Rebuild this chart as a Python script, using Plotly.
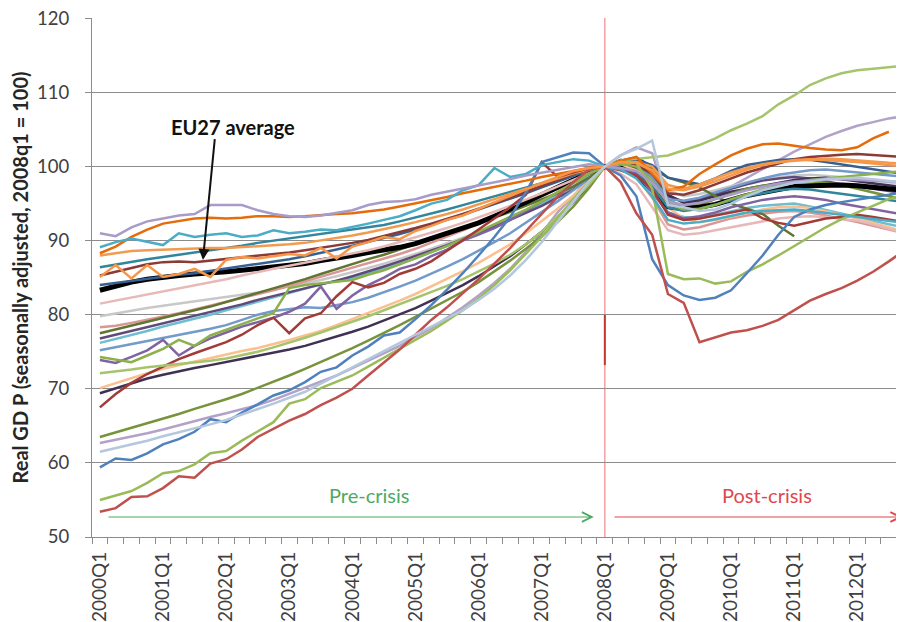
import plotly.graph_objects as go

quarters = [f"{y}Q{q}" for y in range(2000, 2013) for q in range(1, 5)]
tick_labels = ["2000Q1", "2001Q1", "2002Q1", "2003Q1", "2004Q1", "2005Q1", "2006Q1",
               "2007Q1", "2008Q1", "2009Q1", "2010Q1", "2011Q1", "2012Q1"]

eu27 = [83.3, 83.9, 84.4, 84.8, 85.1, 85.3, 85.5, 85.6, 85.8, 86.0,
        86.2, 86.5, 86.7, 86.9, 87.3, 87.6, 88.0, 88.4, 88.7, 89.1,
        89.6, 90.3, 91.0, 91.7, 92.4, 93.3, 94.2, 95.2, 96.2, 97.2,
        98.2, 99.2, 100.0, 99.8, 98.8, 96.9, 94.6, 94.3, 94.5, 94.9,
        95.5, 96.1, 96.5, 96.9, 97.3, 97.4, 97.5, 97.5, 97.4, 97.2,
        97.0, 96.8]
latvia = [53.4, 53.9, 55.4, 55.5, 56.6, 58.2, 58.0, 59.9, 60.5, 61.8,
          63.5, 64.6, 65.7, 66.6, 67.8, 68.8, 70.0, 71.8, 73.6, 75.3,
          77.3, 79.3, 81.0, 82.9, 84.8, 86.9, 89.0, 91.3, 93.6, 95.9,
          97.9, 99.6, 100.0, 97.9, 93.7, 90.8, 82.8, 81.6, 76.3, 77.0,
          77.6, 77.9, 78.5, 79.3, 80.6, 81.9, 82.8, 83.6, 84.6, 85.8,
          87.2, 88.7]
lithuania = [55.0, 55.6, 56.2, 57.3, 58.6, 58.9, 59.8, 61.3, 61.6, 63.0,
             64.2, 65.5, 68.0, 68.6, 70.1, 71.0, 71.8, 73.0, 74.2, 75.4,
             76.6, 77.8, 79.2, 80.6, 82.2, 84.0, 86.0, 88.2, 90.5, 93.0,
             95.6, 98.0, 100.0, 100.8, 100.5, 97.0, 85.5, 84.8, 84.9, 84.2,
             84.5, 85.8, 86.8, 88.0, 89.3, 90.6, 91.8, 92.9, 93.8, 94.8,
             95.6, 96.2]
estonia = [59.4, 60.6, 60.4, 61.3, 62.5, 63.2, 64.2, 65.9, 65.5, 66.8,
           67.9, 69.1, 69.8, 70.9, 72.3, 72.9, 74.5, 75.7, 77.2, 77.6,
           79.4, 81.3, 83.4, 85.6, 88.0, 90.5, 93.2, 96.5, 100.6, 101.2,
           101.9, 101.8, 100.0, 98.8, 96.0, 87.5, 84.0, 82.6, 82.0, 82.3,
           83.3, 85.6, 88.0, 90.8, 93.2, 94.2, 94.8, 95.2, 95.5, 95.9,
           96.2, 96.6]
grey_blue = [61.5, 62.0, 62.4, 63.0, 63.6, 64.1, 64.7, 65.2, 65.8, 66.5,
             67.2, 68.0, 68.8, 69.6, 70.7, 71.8, 73.0, 74.1, 75.2, 76.2,
             77.3, 78.4, 79.5, 80.6, 82.0, 83.5, 85.3, 87.4, 89.8, 92.5,
             95.3, 98.0, 100.0, 101.5, 102.4, 103.5, 94.8, 94.5, 94.0, 94.2,
             95.0, 96.0, 96.8, 97.3, 97.8, 98.0, 98.3, 98.4, 98.5, 98.3,
             98.0, 97.8]
slovakia = [62.7, 63.1, 63.6, 64.0, 64.5, 65.1, 65.6, 66.2, 66.7, 67.2,
            67.8, 68.5, 69.3, 70.1, 70.9, 71.8, 72.8, 73.8, 74.8, 75.8,
            77.0, 78.2, 79.6, 81.0, 82.6, 84.3, 86.2, 88.5, 91.0, 93.8,
            96.0, 98.5, 100.0, 101.5, 102.6, 101.8, 95.0, 94.6, 95.3, 96.2,
            97.3, 98.5, 99.7, 100.9, 102.0, 103.0, 104.0, 104.8, 105.5, 106.0,
            106.5, 106.8]
dark_green = [63.5, 64.1, 64.7, 65.4, 66.0, 66.6, 67.3, 67.9, 68.6, 69.3,
              70.1, 70.9, 71.8, 72.7, 73.6, 74.5, 75.5, 76.5, 77.5, 78.6,
              79.7, 80.8, 81.9, 83.1, 84.4, 85.8, 87.3, 88.9, 90.6, 92.5,
              94.6, 97.1, 100.0, 100.5, 100.8, 99.0, 95.5, 94.6, 94.8, 95.6,
              96.3, 97.0, 97.4, 97.6, 97.9, 98.0, 97.8, 97.5, 97.0, 96.5,
              96.0, 95.5]
dark_red = [67.5, 69.3, 70.8, 72.0, 73.0, 74.0, 74.8, 75.6, 76.3, 77.3,
            78.6, 79.6, 77.5, 79.5, 80.2, 82.5, 84.4, 83.7, 84.3, 85.5,
            86.2, 87.2, 88.6, 90.1, 91.5, 93.0, 94.5, 96.2, 100.6, 98.6,
            99.2, 99.8, 100.0, 99.5, 98.8, 97.0, 93.5, 92.8, 93.0, 93.4,
            93.8, 94.2, 93.0, 92.4, 92.0, 92.5, 93.0, 93.2, 93.5, 93.2,
            92.8, 92.5]
navy = [69.4, 70.1, 70.8, 71.4, 71.9, 72.4, 72.8, 73.2, 73.6, 74.0,
        74.4, 74.9, 75.3, 75.8, 76.4, 77.0, 77.7, 78.4, 79.2, 80.0,
        80.9, 81.9, 82.9, 84.0, 85.2, 86.5, 87.9, 89.5, 91.2, 93.1,
        95.2, 97.5, 100.0, 100.8, 101.2, 100.0, 96.2, 95.1, 95.4, 96.0,
        96.6, 97.0, 97.4, 97.8, 98.2, 98.4, 98.5, 98.3, 98.0, 97.7,
        97.4, 97.2]
salmon = [70.1, 70.8, 71.4, 72.1, 72.7, 73.2, 73.7, 74.2, 74.7, 75.1,
          75.5, 76.0, 76.6, 77.2, 77.8, 78.6, 79.4, 80.2, 81.0, 81.9,
          82.8, 83.8, 84.8, 85.9, 87.0, 88.2, 89.5, 91.0, 92.6, 94.3,
          96.1, 98.0, 100.0, 100.2, 99.5, 97.8, 94.5, 93.0, 92.5, 92.8,
          93.3, 93.8, 94.2, 94.5, 94.6, 94.4, 94.0, 93.5, 93.0, 92.4,
          91.8, 91.2]
poland = [72.1, 72.3, 72.6, 72.9, 73.1, 73.3, 73.5, 73.8, 74.1, 74.5,
          75.0, 75.6, 76.2, 76.9, 77.6, 78.3, 79.1, 79.8, 80.6, 81.4,
          82.2, 83.0, 83.9, 84.8, 85.8, 86.9, 88.1, 89.5, 91.2, 93.2,
          95.3, 97.6, 100.0, 100.8, 101.0, 101.2, 101.5, 102.2, 102.9, 103.8,
          104.9, 105.8, 106.8, 108.4, 109.6, 111.0, 111.9, 112.6, 113.0, 113.2,
          113.4, 113.6]
green_jump = [74.3, 73.9, 73.6, 74.5, 75.4, 76.6, 75.8, 77.2, 78.0, 78.8,
              79.5, 80.2, 83.6, 84.0, 84.2, 84.4, 84.7, 85.4, 86.0, 86.8,
              87.6, 88.5, 89.3, 90.2, 91.2, 92.1, 93.1, 94.2, 95.3, 96.5,
              97.8, 99.0, 100.0, 100.4, 100.0, 98.0, 95.0, 94.2, 94.3, 94.8,
              95.6, 96.3, 96.9, 97.4, 97.8, 98.2, 98.4, 98.6, 98.9, 99.1,
              99.3, 99.4]
purple_zig = [73.9, 73.5, 74.3, 75.2, 76.6, 74.5, 75.8, 76.8, 77.6, 78.4,
              79.0, 79.6, 80.4, 81.5, 83.8, 80.8, 82.6, 84.0, 85.0, 86.2,
              86.8, 87.9, 88.8, 90.0, 90.8, 91.7, 92.8, 94.0, 95.2, 96.5,
              97.8, 99.0, 100.0, 99.8, 99.0, 96.5, 93.8, 93.0, 93.3, 93.8,
              94.5, 95.0, 95.5, 95.8, 96.0, 95.8, 95.5, 95.0, 94.6, 94.2,
              93.8, 93.5]
blue = [75.2, 75.6, 76.0, 76.4, 76.9, 77.3, 77.7, 78.1, 78.6, 79.3,
        80.0, 80.5, 80.8, 81.0, 80.9, 81.3, 81.7, 82.3, 83.0, 83.8,
        84.6, 85.5, 86.5, 87.5, 88.6, 89.8, 91.0, 92.4, 93.8, 95.3,
        96.8, 98.4, 100.0, 100.3, 100.2, 98.5, 95.6, 95.4, 95.8, 96.5,
        97.2, 97.8, 98.4, 98.9, 99.2, 99.5, 99.6, 99.4, 99.3, 99.0,
        98.8, 98.6]
light_aqua = [76.2, 76.7, 77.2, 77.8, 78.4, 78.9, 79.5, 80.0, 80.6, 81.2,
              81.8, 82.3, 82.9, 83.5, 84.1, 84.6, 85.0, 85.6, 86.2, 86.9,
              87.6, 88.4, 89.2, 90.1, 91.0, 91.9, 92.9, 93.9, 95.0, 96.1,
              97.3, 98.6, 100.0, 100.1, 99.2, 97.0, 93.8, 93.2, 93.0, 93.5,
              94.0, 94.4, 94.7, 94.9, 95.0, 94.6, 94.1, 93.6, 93.1, 92.6,
              92.2, 91.8]
purple = [76.8, 77.3, 77.9, 78.4, 78.9, 79.4, 79.8, 80.3, 80.9, 81.4,
          82.0, 82.5, 83.0, 83.6, 84.1, 84.6, 85.2, 85.8, 86.5, 87.2,
          87.9, 88.6, 89.4, 90.2, 91.0, 91.9, 92.8, 93.7, 94.7, 95.8,
          96.9, 98.4, 100.0, 100.4, 99.8, 98.6, 96.0, 95.3, 95.6, 96.2,
          97.0, 97.6, 98.1, 98.4, 98.6, 98.4, 98.0, 97.6, 97.3, 97.0,
          96.7, 96.4]
pink = [78.3, 78.5, 78.9, 79.3, 79.7, 80.2, 80.7, 81.2, 81.7, 82.2,
        82.8, 83.3, 83.9, 84.5, 85.1, 85.7, 86.3, 86.9, 87.5, 88.2,
        88.9, 89.7, 90.5, 91.4, 92.3, 93.2, 94.1, 95.0, 96.0, 97.0,
        98.0, 99.0, 100.0, 99.6, 98.6, 95.8, 92.2, 91.5, 91.8, 92.4,
        93.0, 93.4, 93.7, 93.9, 94.0, 93.8, 93.4, 93.0, 92.5, 92.0,
        91.5, 91.0]
light_grey = [79.8, 80.2, 80.6, 80.9, 81.2, 81.5, 81.8, 82.1, 82.4, 82.7,
              83.0, 83.4, 83.8, 84.2, 84.7, 85.2, 85.7, 86.3, 86.9, 87.5,
              88.2, 88.9, 89.6, 90.4, 91.2, 92.1, 93.0, 94.0, 95.0, 96.1,
              97.3, 98.6, 100.0, 100.6, 100.2, 99.0, 96.8, 96.0, 96.3, 96.8,
              97.4, 97.9, 98.3, 98.6, 98.8, 98.9, 98.8, 98.6, 98.4, 98.1,
              97.9, 97.6]
light_pink = [81.5, 81.9, 82.3, 82.7, 83.1, 83.5, 83.9, 84.3, 84.8, 85.3,
              85.8, 86.2, 86.6, 87.0, 87.4, 87.8, 88.2, 88.7, 89.2, 89.8,
              90.4, 91.0, 91.7, 92.4, 93.1, 93.9, 94.7, 95.5, 96.4, 97.3,
              98.2, 99.1, 100.0, 99.0, 97.6, 94.5, 91.4, 90.8, 91.0, 91.4,
              91.8, 92.2, 92.6, 93.0, 93.2, 93.3, 93.2, 93.0, 92.7, 92.2,
              91.6, 91.0]
orange_zig = [85.1, 86.7, 84.9, 86.7, 85.1, 85.5, 86.2, 85.1, 87.4, 87.8,
              87.6, 87.9, 88.2, 88.0, 89.0, 87.6, 89.2, 89.8, 90.5, 90.2,
              91.3, 92.0, 92.8, 93.4, 94.3, 95.2, 96.0, 97.0, 97.8, 98.6,
              99.4, 99.8, 100.0, 100.6, 100.5, 99.5, 97.0, 96.8, 97.3, 98.0,
              98.8, 99.6, 100.2, 100.6, 100.9, 101.0, 100.9, 100.7, 100.6, 100.4,
              100.2, 100.0]
brown = [85.3, 85.8, 86.3, 86.8, 87.1, 87.2, 87.1, 87.3, 87.5, 87.7,
         87.9, 88.1, 88.4, 88.7, 89.0, 89.3, 89.7, 90.1, 90.6, 91.1,
         91.7, 92.3, 92.9, 93.6, 94.3, 95.0, 95.8, 96.6, 97.4, 98.2,
         99.0, 99.6, 100.0, 100.6, 100.2, 99.0, 96.4, 96.2, 96.8, 97.6,
         98.4, 99.2, 99.8, 100.4, 101.0, 101.3, 101.5, 101.6, 101.7, 101.6,
         101.5, 101.3]
dark_teal = [86.4, 86.8, 87.2, 87.5, 87.8, 88.1, 88.4, 88.7, 89.0, 89.3,
             89.7, 90.0, 90.3, 90.6, 90.9, 91.1, 91.4, 91.7, 92.1, 92.6,
             93.1, 93.6, 94.2, 94.8, 95.4, 96.0, 96.6, 97.2, 97.8, 98.4,
             99.0, 99.5, 100.0, 99.8, 99.2, 97.3, 94.5, 94.0, 94.3, 94.9,
             95.5, 96.0, 96.4, 96.8, 97.0, 96.9, 96.6, 96.3, 96.0, 95.7,
             95.4, 95.2]
dark_orange = [88.3, 89.2, 90.5, 91.5, 92.3, 92.7, 93.0, 93.1, 93.0, 93.1,
               93.3, 93.3, 93.2, 93.3, 93.5, 93.6, 93.7, 93.9, 94.2, 94.6,
               95.0, 95.4, 95.9, 96.4, 96.8, 97.2, 97.6, 98.1, 98.6, 99.0,
               99.4, 99.8, 100.0, 100.8, 101.3, 99.0, 96.8, 97.3, 99.0, 100.3,
               101.5, 102.4, 103.0, 103.1, 102.8, 102.5, 102.3, 102.2, 102.6, 103.8,
               104.7, None]
teal_zig = [89.1, 89.8, 90.3, 89.8, 89.4, 91.0, 90.5, 90.8, 91.0, 90.5,
            90.7, 91.4, 91.0, 91.2, 91.5, 91.4, 91.8, 92.3, 92.8, 93.3,
            94.1, 95.0, 95.5, 96.8, 97.5, 99.8, 98.6, 99.0, 100.2, 100.6,
            101.0, 100.8, 100.0, 99.6, 98.4, 96.0, 92.8, 92.3, 92.5, 92.9,
            93.4, 93.8, 94.0, 94.1, 94.2, 94.0, 93.8, 93.5, 93.2, 92.9,
            92.6, 92.4]
orange_flat = [88.0, 88.3, 88.6, 88.7, 88.8, 88.8, 88.9, 89.0, 89.0, 89.1,
               89.2, 89.3, 89.5, 89.7, 90.0, 90.3, 90.7, 91.1, 91.5, 92.0,
               92.5, 93.0, 93.6, 94.2, 94.9, 95.6, 96.3, 97.0, 97.7, 98.4,
               99.1, 99.6, 100.0, 100.3, 100.6, 100.0, 97.5, 97.0, 97.6, 98.4,
               99.2, 99.8, 100.3, 100.6, 100.8, 101.0, 101.1, 101.0, 100.8, 100.6,
               100.5, 100.4]
lavender_top = [91.0, 90.6, 91.8, 92.6, 93.0, 93.4, 93.6, 94.8, 94.8, 94.8,
                94.1, 93.6, 93.3, 93.2, 93.4, 93.8, 94.1, 94.8, 95.2, 95.3,
                95.6, 96.2, 96.6, 97.0, 97.4, 97.9, 98.3, 98.8, 99.2, 99.6,
                100.0, 100.3, 100.0, 99.8, 99.4, 97.8, 95.3, 94.8, 95.1, 95.6,
                96.2, 96.8, 97.3, 97.7, 98.0, 98.2, 98.3, 98.3, 98.2, 98.1,
                98.0, 97.9]
olive = [77.5, 78.0, 78.6, 79.1, 79.6, 80.1, 80.6, 81.1, 81.7, 82.3,
         82.9, 83.5, 84.2, 84.8, 85.5, 86.2, 86.9, 87.5, 88.1, 88.8,
         89.5, 90.2, 90.9, 91.6, 92.3, 93.1, 93.9, 94.7, 95.5, 96.4,
         97.3, 98.5, 100.0, 100.9, 100.5, 99.8, 98.5, 97.8, 97.2, 96.0,
         95.0, 94.3, 93.6, 92.0, 90.6, None, None, None, None, None,
         None, None]
dark_blue = [84.0, 84.3, 84.6, 84.9, 85.2, 85.4, 85.6, 85.9, 86.2, 86.5,
             86.8, 87.1, 87.5, 87.9, 88.3, 88.8, 89.3, 89.8, 90.3, 90.9,
             91.5, 92.1, 92.8, 93.5, 94.2, 94.9, 95.6, 96.4, 97.2, 98.0,
             98.8, 99.5, 100.0, 100.6, 100.9, 100.2, 98.5, 98.0, 97.6, 98.4,
             99.4, 100.2, 100.6, 100.9, 101.0, 100.9, 100.6, 100.3, 100.0, 99.7,
             99.4, 99.0]

series = [
    ("Slovakia", slovakia, "#B3A2C7"),
    ("Light grey", light_grey, "#C8C8C8"),
    ("Light aqua", light_aqua, "#6FBDD1"),
    ("Purple", purple, "#604A7B"),
    ("Pink", pink, "#D99694"),
    ("Navy", navy, "#403152"),
    ("Salmon", salmon, "#FAC090"),
    ("Dark green", dark_green, "#77933C"),
    ("Blue", blue, "#729ACA"),
    ("Olive", olive, "#5F7530"),
    ("EU27", eu27, "#000000"),
    ("Light pink", light_pink, "#E6B9B8"),
    ("Dark blue", dark_blue, "#376092"),
    ("Dark teal", dark_teal, "#31859C"),
    ("Brown", brown, "#8B3A36"),
    ("Orange flat", orange_flat, "#F29B4F"),
    ("Purple zig", purple_zig, "#8064A2"),
    ("Green jump", green_jump, "#8CB04A"),
    ("Dark red", dark_red, "#A23B38"),
    ("Poland", poland, "#A6C46B"),
    ("Lithuania", lithuania, "#9BBB59"),
    ("Estonia", estonia, "#4F81BD"),
    ("Latvia", latvia, "#C0504D"),
    ("Dark orange", dark_orange, "#E46C0A"),
    ("Teal zig", teal_zig, "#4BACC6"),
    ("Lavender top", lavender_top, "#A99BC9"),
    ("Orange zig", orange_zig, "#F79646"),
    ("Grey blue", grey_blue, "#B4C7DE"),
]

for name, vals, _ in series:
    assert len(vals) == len(quarters), (name, len(vals))

fig = go.Figure()
for name, vals, col in series:
    fig.add_trace(go.Scatter(
        x=quarters, y=vals, mode="lines", name=name,
        line=dict(color=col, width=5 if name == "EU27" else 2.5),
        connectgaps=False, showlegend=False))

FONT = "Lato, Carlito, 'Open Sans', sans-serif"

# page body has an 8px default margin: figure is sized to end at the window edge
fig.update_layout(
    width=896, height=614,
    margin=dict(l=84, r=0, t=10, b=85, autoexpand=False),
    paper_bgcolor="white", plot_bgcolor="white",
    font=dict(family=FONT, color="#404040"),
    showlegend=False,
)

fig.update_xaxes(
    type="category",
    range=[-0.5, 50.96],
    tickmode="array",
    tickvals=quarters,
    ticktext=[q if q in tick_labels else "" for q in quarters],
    tickson="boundaries",
    tickangle=-90,
    tickfont=dict(size=19, color="#404040", family=FONT),
    ticks="outside", ticklen=6, tickcolor="#8C8C8C",
    ticklabelstandoff=6, ticklabeloverflow="allow",
    showline=True, linecolor="#8C8C8C", linewidth=1.2,
    showgrid=False, zeroline=False,
)
fig.update_yaxes(
    range=[50, 120.05], tickvals=[50, 60, 70, 80, 90, 100, 110, 120],
    tickfont=dict(size=18.5, color="#404040", family=FONT),
    ticks="outside", ticklen=6, tickcolor="#8C8C8C",
    ticklabelstandoff=12, ticklabeloverflow="allow",
    showline=True, linecolor="#8C8C8C", linewidth=1.2,
    showgrid=True, gridcolor="#8C8C8C", gridwidth=1.2,
    zeroline=False,
)

# crisis divider at 2008Q1
fig.add_shape(type="line", xref="x", yref="paper", x0=32, x1=32, y0=0, y1=1,
              line=dict(color="#F08A8A", width=1.2), layer="below")
fig.add_shape(type="line", xref="x", yref="y", x0=32, x1=32, y0=73.2, y1=80,
              line=dict(color="#C0392B", width=2), layer="below")

# y-axis title
fig.add_annotation(
    xref="paper", yref="paper", x=-0.0887, y=0.50, xanchor="center", yanchor="middle",
    text="<b>Real GD P (seasonally adjusted, 2008q1 = 100)</b>",
    textangle=-90, showarrow=False,
    font=dict(size=20, color="#262626", family=FONT),
)

# EU27 label and arrow
fig.add_annotation(
    xref="x", yref="y", x=8.44, y=105.3, text="<b>EU27 average</b>",
    showarrow=False, font=dict(size=20, color="#111111", family=FONT),
)
fig.add_annotation(
    xref="x", yref="y", x=6.53, y=87.4, ax=7.29, ay=103.9,
    axref="x", ayref="y", text="", showarrow=True,
    arrowhead=2, arrowsize=1.1, arrowwidth=2, arrowcolor="#111111",
)

# Pre / post crisis labels and arrows
fig.add_annotation(
    xref="x", yref="y", x=17.05, y=55.7, text="Pre-crisis", showarrow=False,
    font=dict(size=20, color="#4EAA62", family=FONT),
)
fig.add_annotation(
    xref="x", yref="y", x=31.3, y=52.7, ax=0.45, ay=52.7,
    axref="x", ayref="y", text="", showarrow=True,
    arrowhead=5, arrowsize=1.6, arrowwidth=1.2, arrowcolor="#4EAA62",
)
fig.add_annotation(
    xref="x", yref="y", x=42.28, y=55.7, text="Post-crisis", showarrow=False,
    font=dict(size=20, color="#E0474C", family=FONT),
)
fig.add_annotation(
    xref="x", yref="y", x=50.85, y=52.7, ax=32.52, ay=52.7,
    axref="x", ayref="y", text="", showarrow=True,
    arrowhead=5, arrowsize=1.6, arrowwidth=1.2, arrowcolor="#E0474C",
)

fig.write_html("out.html")
